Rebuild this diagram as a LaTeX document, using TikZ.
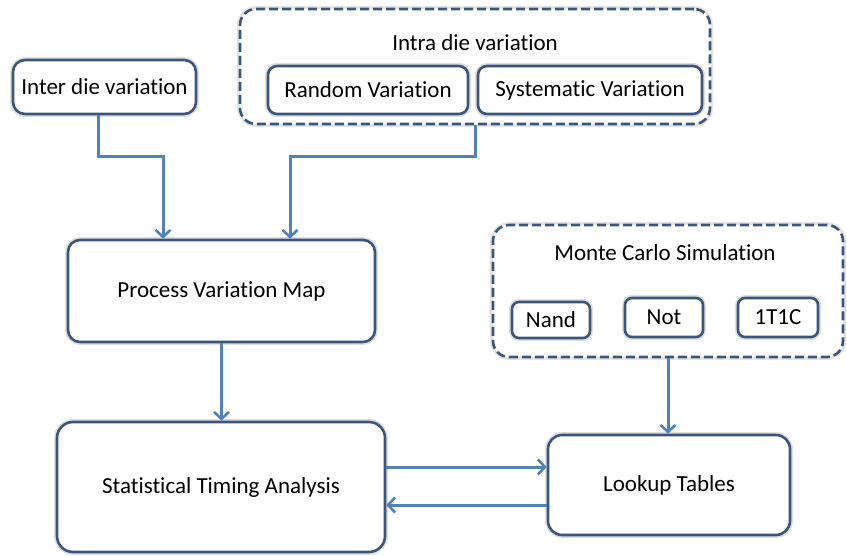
\documentclass[tikz,border=0pt]{standalone}
\usepackage{fontspec}
\setmainfont[Ligatures=NoCommon]{Carlito}
\usetikzlibrary{arrows.meta,calc}
\definecolor{bord}{RGB}{59,86,125}
\definecolor{arrc}{RGB}{79,129,189}
\tikzset{
  box/.style={draw=bord, line width=2.6pt, fill=white, rounded corners=12pt,
    preaction={draw=black!12, line width=6pt},
    inner sep=0pt, align=center, font=\fontsize{23}{27}\selectfont},
  smallbox/.style={box, rounded corners=7pt},
  dashbox/.style={draw=bord, line width=2.6pt, fill=white, rounded corners=16pt,
    dash pattern=on 9pt off 4pt, preaction={draw=black!10, line width=6pt, solid},
    inner sep=0pt},
  lbl/.style={font=\fontsize{23}{27}\selectfont, inner sep=0pt},
  arr/.style={draw=arrc, line width=3pt, -{Straight Barb[length=7pt,width=15pt,line width=2.6pt]}},
}
\begin{document}
\begin{tikzpicture}[x=1pt,y=-1pt]
\useasboundingbox (0,0) rectangle (847,556);
% boxes
\node[box, minimum width=183, minimum height=54] (inter) at (104.5,87) {Inter die variation};
\node[dashbox, minimum width=470, minimum height=115] (intra) at (475,66.5) {};
\node[lbl] (intralbl) at (475,43) {Intra die variation};
\node[box, rounded corners=9pt, minimum width=200, minimum height=48] (rand) at (368,90) {Random Variation};
\node[box, rounded corners=9pt, minimum width=224, minimum height=48] (sys) at (590,90) {Systematic Variation};
\node[box, minimum width=307, minimum height=102] (pvm) at (221.5,291) {Process Variation Map};
\node[dashbox, minimum width=350, minimum height=132] (mc) at (668,291) {};
\node[lbl] (mclbl) at (665,253) {Monte Carlo Simulation};
\node[smallbox, minimum width=78, minimum height=36] (nand) at (551,320) {Nand};
\node[smallbox, minimum width=78, minimum height=39] (not) at (664,317.5) {Not};
\node[smallbox, minimum width=80, minimum height=39] (tc) at (778,317.5) {1T1C};
\node[box, rounded corners=16pt, minimum width=328, minimum height=130] (sta) at (221,487) {Statistical Timing Analysis};
\node[box, rounded corners=14pt, minimum width=242, minimum height=100] (lut) at (669,485) {Lookup Tables};
% connectors
\draw[arr] ([xshift=-6.5]inter.south) -- ++(0,41) -| ([xshift=-58.5]pvm.north);
\draw[arr] (intra.south) -- ++(0,31) -| ([xshift=68.5]pvm.north);
\draw[arr] (pvm.south) -- (pvm.south |- sta.north);
\draw[arr] (mc.south) -- (mc.south |- lut.north);
\coordinate (a1) at ([yshift=20]sta.east);
\coordinate (a2) at ([yshift=-18]sta.east);
\draw[arr] (a1) -- (a1 -| lut.west);
\draw[arr] (a2 -| lut.west) -- (a2);
\end{tikzpicture}
\end{document}
